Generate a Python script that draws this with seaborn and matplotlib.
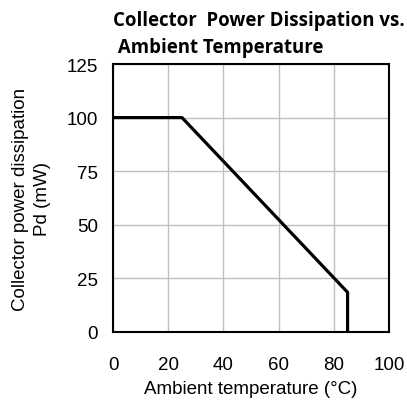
import matplotlib
matplotlib.use("Agg")
import matplotlib.pyplot as plt
import seaborn as sns
import pandas as pd

temp = [0, 25, 85, 85]
power = [100, 100, 18.5, 0]
x_ticks = [0, 20, 40, 60, 80, 100]
y_ticks = [0, 25, 50, 75, 100, 125]

sns.set_style("white")
plt.rcParams['font.family'] = ['Liberation Sans', 'DejaVu Sans']
plt.rcParams['text.color'] = 'black'
plt.rcParams['axes.labelcolor'] = 'black'

df = pd.DataFrame({'temp': temp, 'power': power})

fig = plt.figure(figsize=(4.07, 4.02), dpi=100)
ax = fig.add_axes([113 / 407, 1 - 333 / 402, 276 / 407, 268 / 402])

sns.lineplot(data=df, x='temp', y='power', sort=False, estimator=None,
             color='black', linewidth=2.3, ax=ax, zorder=5)

ax.set_xlim(0, 100)
ax.set_ylim(0, 125)
ax.set_xticks(x_ticks)
ax.set_yticks(y_ticks)
ax.grid(True, color='#c0c0c0', linewidth=1)
ax.tick_params(labelsize=13.5, length=0, colors='black')
ax.tick_params(axis='x', pad=17)
ax.tick_params(axis='y', pad=11)
for s in ax.spines.values():
    s.set_color('black')
    s.set_linewidth(1.5)

ax.set_xlabel('Ambient temperature (°C)', fontsize=13.5, labelpad=5)
ax.set_ylabel('Collector power dissipation\nPd (mW)', fontsize=13.5, labelpad=11,
              linespacing=1.4)
ax.set_title('Collector  Power Dissipation vs.\n Ambient Temperature',
             fontsize=13.4, fontweight='bold', family=['Open Sans', 'DejaVu Sans'],
             loc='left', x=0.0, pad=9, linespacing=1.45)

fig.savefig('out.png', dpi=100)
